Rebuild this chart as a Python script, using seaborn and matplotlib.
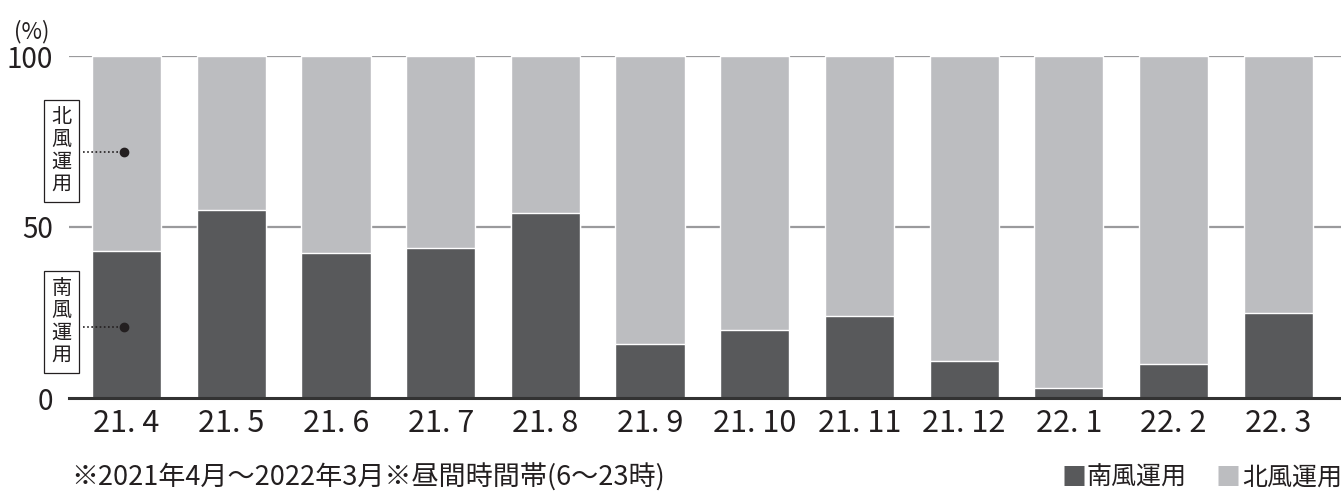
import matplotlib
matplotlib.use("Agg")
import matplotlib.pyplot as plt
import seaborn as sns
import pandas as pd

months = ["21. 4", "21. 5", "21. 6", "21. 7", "21. 8", "21. 9",
          "21. 10", "21. 11", "21. 12", "22. 1", "22. 2", "22. 3"]
south = [43.0, 55.0, 42.4, 43.9, 54.1, 15.8, 19.9, 24.0, 10.8, 2.9, 9.9, 24.9]
north = [57.0, 45.0, 57.6, 56.1, 45.9, 84.2, 80.1, 76.0, 89.2, 97.1, 90.1, 75.1]
yticks = [0, 50, 100]

DARK = "#58595b"
LIGHT = "#bcbdc0"
INK = "#231f20"

sns.set_theme(style="white")
plt.rcParams['font.family'] = ['Noto Sans CJK JP', 'DejaVu Sans']

df = pd.DataFrame({"month": months, "south": south, "north": north})
df["total"] = df["south"] + df["north"]

fig = plt.figure(figsize=(13.41, 4.93), dpi=100)
ax = fig.add_axes([69 / 1341, 1 - 398 / 493, 1 - 69 / 1341, (398 - 56) / 493])

for y in [50, 100]:
    ax.axhline(y, color="#9a9a9c", lw=1.6, zorder=0)

sns.barplot(data=df, x="month", y="total", color=LIGHT, width=0.66,
            saturation=1, ax=ax, zorder=2)
sns.barplot(data=df, x="month", y="south", color=DARK, width=0.66,
            saturation=1, ax=ax, zorder=3)

ax.set_xlim(-0.55, 11.6)
ax.set_ylim(0, 100)
ax.set_yticks(yticks)
ax.set_yticklabels([str(v) for v in yticks], fontsize=20, color=INK)
ax.tick_params(axis="y", length=0, pad=11.5)
ax.tick_params(axis="x", length=0, pad=7, labelsize=22, labelcolor=INK)
ax.set_xlabel("")
ax.set_ylabel("")
for s in ["top", "right", "left"]:
    ax.spines[s].set_visible(False)
ax.spines["bottom"].set_color("#333333")
ax.spines["bottom"].set_linewidth(2.2)
ax.spines["bottom"].set_zorder(5)

fig.text(14 / 1341, 1 - 32 / 493, "(%)", fontsize=16, color=INK, va="center")

# annotation boxes
def label_box(yc_px, yd_px, text):
    fig.text(61.5 / 1341, 1 - yc_px / 493, "\n".join(text), fontsize=14.5,
             color=INK, ha="center", va="center", linespacing=1.08,
             bbox=dict(boxstyle="square,pad=0.35", fc="white", ec=INK, lw=0.9))
    fig.add_artist(plt.Line2D([83 / 1341, 121 / 1341], [1 - yd_px / 493] * 2,
                              transform=fig.transFigure, color=INK,
                              lw=1.2, ls=(0, (1, 1.5)), zorder=10))
    fig.add_artist(plt.Line2D([124 / 1341], [1 - yd_px / 493], marker="o",
                              ms=6, color=INK, transform=fig.transFigure,
                              zorder=10))

label_box(151, 152, "北風運用")
label_box(322, 327, "南風運用")

FY = 1 - 478 / 493
fig.text(71 / 1341, FY, "※2021年4月～2022年3月※昼間時間帯(6～23時)",
         fontsize=19.5, color=INK, va="center")
fig.text(1061 / 1341, FY, "■", fontsize=18, color=DARK, va="center")
fig.text(1086 / 1341, FY, "南風運用", fontsize=18, color=INK, va="center")
fig.text(1216 / 1341, FY, "■", fontsize=18, color=LIGHT, va="center")
fig.text(1242 / 1341, FY, "北風運用", fontsize=18, color=INK, va="center")

fig.savefig("out.png", dpi=100)
